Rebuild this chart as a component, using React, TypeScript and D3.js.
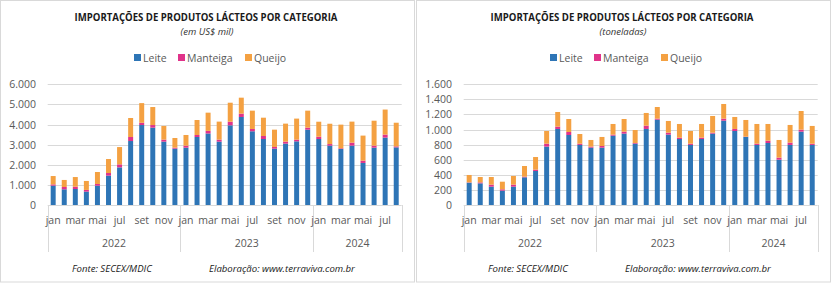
import { useEffect, useRef } from 'react';
import * as d3 from 'd3';

const months = ['jan', 'fev', 'mar', 'abr', 'mai', 'jun', 'jul', 'ago', 'set', 'out', 'nov', 'dez'];
const years = ['2022', '2023', '2024'];
const monthsPerYear = [12, 12, 8];
const seriesNames = ['Leite', 'Manteiga', 'Queijo'];
const seriesColors = ['#2E75B6', '#E0338A', '#F4A142'];

// US$ mil
const leiteUsd = [960, 780, 795, 665, 960, 1460, 1870, 3180, 3975, 3845, 3150, 2800,
  2850, 3380, 3555, 3150, 3960, 4375, 3665, 3280, 2800, 3050, 3165, 3745,
  3280, 2950, 2785, 2950, 2090, 2850, 3350, 2865];
const manteigaUsd = [65, 115, 115, 85, 85, 130, 150, 200, 115, 130, 100, 50,
  100, 100, 130, 100, 180, 165, 115, 150, 85, 100, 85, 100,
  115, 80, 35, 150, 115, 100, 150, 50];
const queijoUsd = [415, 350, 480, 445, 595, 695, 860, 945, 975, 895, 680, 480,
  530, 745, 905, 895, 945, 795, 910, 910, 860, 895, 1045, 845,
  745, 1010, 1175, 1045, 1245, 1240, 1245, 1175];

// toneladas
const leiteTon = [296, 287, 243, 190, 243, 367, 451, 774, 1008, 928, 796, 760,
  760, 919, 946, 813, 1008, 1131, 933, 875, 796, 875, 946, 1118,
  981, 902, 796, 822, 601, 796, 972, 796];
const manteigaTon = [4, 13, 27, 18, 27, 9, 18, 39, 31, 40, 17, 14,
  22, 14, 26, 9, 44, 14, 26, 18, 17, 18, 13, 27,
  27, 4, 17, 31, 27, 31, 27, 17];
const queijoTon = [98, 71, 101, 101, 115, 141, 167, 168, 194, 172, 128, 88,
  120, 141, 168, 172, 168, 154, 155, 181, 168, 181, 221, 194,
  159, 221, 261, 221, 234, 234, 247, 235];

const usdTicks = [0, 1000, 2000, 3000, 4000, 5000, 6000];
const tonTicks = [0, 200, 400, 600, 800, 1000, 1200, 1400, 1600];

const fmt = (v: number) => d3.format(',')(v).replace(/,/g, '.');

interface PanelProps {
  x: number;
  subtitle: string;
  series: number[][];
  ticks: number[];
}

function Panel({ x, subtitle, series, ticks }: PanelProps) {
  const ref = useRef<SVGGElement>(null);

  useEffect(() => {
    if (!ref.current) return;
    const g = d3.select(ref.current);
    g.selectAll('*').remove();

    const font = '"Open Sans", "DejaVu Sans", sans-serif';
    const left = 47.7, right = 401.7, top = 84.3, bottom = 205;

    g.append('rect')
      .attr('x', 0.5).attr('y', 0.5)
      .attr('width', 414).attr('height', 281.5)
      .attr('fill', '#fff').attr('stroke', '#D9D9D9');

    g.append('text')
      .attr('x', 206).attr('y', 21)
      .attr('text-anchor', 'middle')
      .attr('font-family', font).attr('font-weight', 700).attr('font-size', 10)
      .attr('fill', '#1a1a1a')
      .attr('textLength', 263).attr('lengthAdjust', 'spacingAndGlyphs')
      .text('IMPORTAÇÕES  DE PRODUTOS  LÁCTEOS POR CATEGORIA');

    g.append('text')
      .attr('x', 207).attr('y', 35)
      .attr('text-anchor', 'middle')
      .attr('font-family', font).attr('font-style', 'italic').attr('font-size', 9.5)
      .attr('fill', '#333')
      .text(subtitle);

    // Legend
    const legendX = [134, 178, 245];
    seriesNames.forEach((name, i) => {
      g.append('rect')
        .attr('x', legendX[i]).attr('y', 54)
        .attr('width', 7).attr('height', 7)
        .attr('fill', seriesColors[i]);
      g.append('text')
        .attr('x', legendX[i] + 9).attr('y', 61.5)
        .attr('font-family', font).attr('font-size', 10.5)
        .attr('fill', '#595959')
        .text(name);
    });

    const n = series[0].length;
    const xScale = d3.scaleBand<number>()
      .domain(d3.range(n))
      .range([left, right])
      .paddingInner(0.55).paddingOuter(0.27);

    const yScale = d3.scaleLinear()
      .domain([ticks[0], ticks[ticks.length - 1]])
      .range([bottom, top]);

    // Grid lines
    g.append('g')
      .selectAll('line')
      .data(ticks.slice(1))
      .enter()
      .append('line')
      .attr('x1', left).attr('x2', right)
      .attr('y1', d => Math.round(yScale(d)) + 0.5).attr('y2', d => Math.round(yScale(d)) + 0.5)
      .attr('stroke', '#D9D9D9');

    // Y labels
    g.append('g')
      .selectAll('text')
      .data(ticks)
      .enter()
      .append('text')
      .attr('x', 36).attr('y', d => yScale(d) + 4)
      .attr('text-anchor', 'end')
      .attr('font-family', font).attr('font-size', 10.5)
      .attr('fill', '#595959')
      .text(d => fmt(d));

    // Stacked bars
    const rows = d3.range(n).map(i => ({ i, l: series[0][i], m: series[1][i], q: series[2][i] }));
    const stack = d3.stack<{ i: number; l: number; m: number; q: number }>().keys(['l', 'm', 'q']);
    const layers = stack(rows);
    layers.forEach((layer, k) => {
      g.append('g')
        .attr('fill', seriesColors[k])
        .selectAll('rect')
        .data(layer)
        .enter()
        .append('rect')
        .attr('x', d => xScale(d.data.i)!)
        .attr('width', xScale.bandwidth())
        .attr('y', d => yScale(d[1]))
        .attr('height', d => yScale(d[0]) - yScale(d[1]));
    });

    // Category axis
    g.append('line')
      .attr('x1', left).attr('x2', right)
      .attr('y1', bottom + 0.5).attr('y2', bottom + 0.5)
      .attr('stroke', '#D9D9D9');

    const step = xScale.step();
    let start = 0;
    const bounds = [0];
    monthsPerYear.forEach(c => { start += c; bounds.push(start); });
    bounds.forEach(b => {
      const bx = Math.round(left + (right - left) * b / n) + 0.5;
      g.append('line')
        .attr('x1', bx).attr('x2', bx)
        .attr('y1', bottom).attr('y2', 252)
        .attr('stroke', '#D9D9D9');
    });

    rows.forEach(r => {
      const mi = r.i % 12;
      if (mi % 2 !== 0) return;
      g.append('text')
        .attr('x', xScale(r.i)! + xScale.bandwidth() / 2)
        .attr('y', 224)
        .attr('text-anchor', 'middle')
        .attr('font-family', font).attr('font-size', 10.5)
        .attr('fill', '#595959')
        .text(months[mi]);
    });

    years.forEach((yr, k) => {
      const cx = left + step * (bounds[k] + bounds[k + 1]) / 2 + (right - left - step * n) / 2;
      g.append('text')
        .attr('x', cx).attr('y', 247)
        .attr('text-anchor', 'middle')
        .attr('font-family', font).attr('font-size', 10.5)
        .attr('fill', '#595959')
        .text(yr);
    });

    // Footer
    g.append('text')
      .attr('x', 72).attr('y', 272)
      .attr('font-family', font).attr('font-style', 'italic').attr('font-size', 9.6)
      .attr('fill', '#1a1a1a')
      .text('Fonte: SECEX/MDIC');
    g.append('text')
      .attr('x', 209).attr('y', 272)
      .attr('font-family', font).attr('font-style', 'italic').attr('font-size', 9.6)
      .attr('fill', '#1a1a1a')
      .text('Elaboração: www.terraviva.com.br');
  }, [series, ticks, subtitle]);

  return <g ref={ref} transform={`translate(${x},0)`} />;
}

export default function App() {
  return (
    <div style={{ position: 'fixed', left: 0, top: 0 }}>
      <svg width={832} height={284} style={{ display: 'block', background: '#fff' }}>
        <Panel x={0} subtitle="(em US$ mil)" series={[leiteUsd, manteigaUsd, queijoUsd]} ticks={usdTicks} />
        <Panel x={416} subtitle="(toneladas)" series={[leiteTon, manteigaTon, queijoTon]} ticks={tonTicks} />
      </svg>
    </div>
  );
}
